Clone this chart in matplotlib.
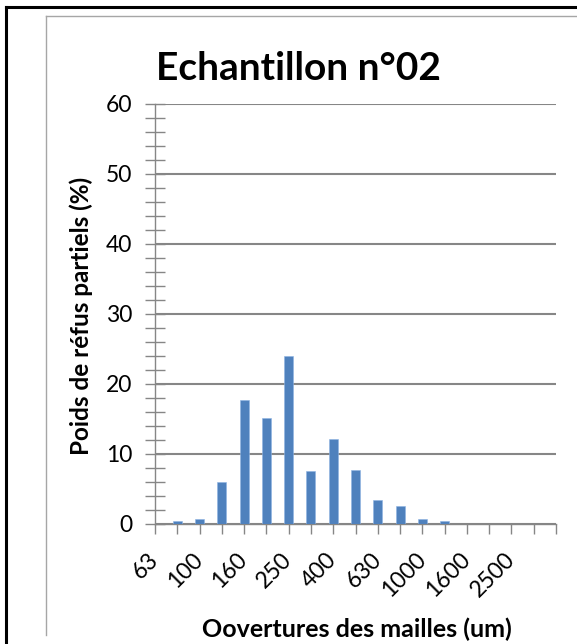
import matplotlib
matplotlib.use("Agg")
import matplotlib.pyplot as plt
from matplotlib.lines import Line2D
from matplotlib.ticker import MultipleLocator, FixedLocator

# Sieve openings (µm) and partial retained weight (%)
categories = ["63", "80", "100", "125", "160", "200", "250", "315", "400", "500",
              "630", "800", "1000", "1250", "1600", "2000", "2500", "3150", "4000"]
values = [0.0, 0.3, 0.7, 5.9, 17.7, 15.1, 24.0, 7.5, 12.1, 7.7,
          3.4, 2.5, 0.7, 0.4, 0.0, 0.0, 0.0, 0.0, 0.0]
shown_labels = ["63", "100", "160", "250", "400", "630", "1000", "1600", "2500"]

title = "Echantillon n°02"
ylabel = "Poids de réfus partiels (%)"
xlabel = "Oovertures des mailles (um)"

W, H = 577, 644
fig = plt.figure(figsize=(W / 100, H / 100), dpi=100)
fig.patch.set_facecolor("white")

def px(x, y):
    return x / W, 1 - y / H

# frames around the chart
black = dict(color="black", lw=2.2, transform=fig.transFigure)
fig.add_artist(Line2D([px(6, 0)[0], px(W, 0)[0]], [px(0, 6.5)[1]] * 2, **black))
fig.add_artist(Line2D([px(6, 0)[0]] * 2, [px(0, 6.5)[1], 0], **black))
grey = dict(color="#a6a6a6", lw=1.0, transform=fig.transFigure)
fig.add_artist(Line2D([px(46, 0)[0], 1], [px(0, 16)[1]] * 2, **grey))
fig.add_artist(Line2D([px(46, 0)[0]] * 2, [px(0, 16)[1], px(0, 635)[1]], **grey))

left, right, top, bottom = 155, 556, 104, 523.5
ax = fig.add_axes([left / W, 1 - bottom / H, (right - left) / W, (bottom - top) / H])

xs = list(range(len(categories)))
ax.bar(xs, values, width=0.4, color="#4F81BD", edgecolor="#8EB4E3", linewidth=0.4, zorder=3)

ax.set_xlim(0, len(categories) - 1)
ax.set_ylim(0, 60)

axis_col = "#868686"
ax.yaxis.set_major_locator(MultipleLocator(10))
ax.yaxis.set_minor_locator(MultipleLocator(2))
ax.grid(axis="y", which="major", color=axis_col, lw=1.5, zorder=1)
ax.tick_params(axis="y", which="both", direction="inout", length=15, width=1.0,
               color=axis_col, labelsize=16.5, pad=9)
ax.tick_params(axis="y", which="minor", length=14)

ax.xaxis.set_major_locator(FixedLocator(xs))
ax.set_xticklabels([c if c in shown_labels else "" for c in categories])
ax.tick_params(axis="x", which="major", direction="out", length=7, width=1.0,
               color=axis_col, labelsize=16.5, pad=16.5)
for lab in ax.get_xticklabels():
    lab.set_rotation(45)
    lab.set_ha("right")
    lab.set_va("center")
    lab.set_rotation_mode("anchor")

for side in ("top", "right"):
    ax.spines[side].set_visible(False)
for side in ("left", "bottom"):
    ax.spines[side].set_color(axis_col)
    ax.spines[side].set_linewidth(1.0)

font = "Lato"
for lab in ax.get_xticklabels() + ax.get_yticklabels():
    lab.set_fontfamily(font)

fig.text(px(298, 0)[0], px(0, 68)[1], title, ha="center", va="center",
         fontsize=28, fontweight="bold", family=font)
fig.text(px(81, 0)[0], px(0, 316)[1], ylabel, ha="center", va="center", rotation=90,
         fontsize=17.5, fontweight="bold", family=font)
fig.text(px(357, 0)[0], px(0, 629)[1], xlabel, ha="center", va="center",
         fontsize=18, fontweight="bold", family=font)

fig.savefig("out.png", dpi=100)
